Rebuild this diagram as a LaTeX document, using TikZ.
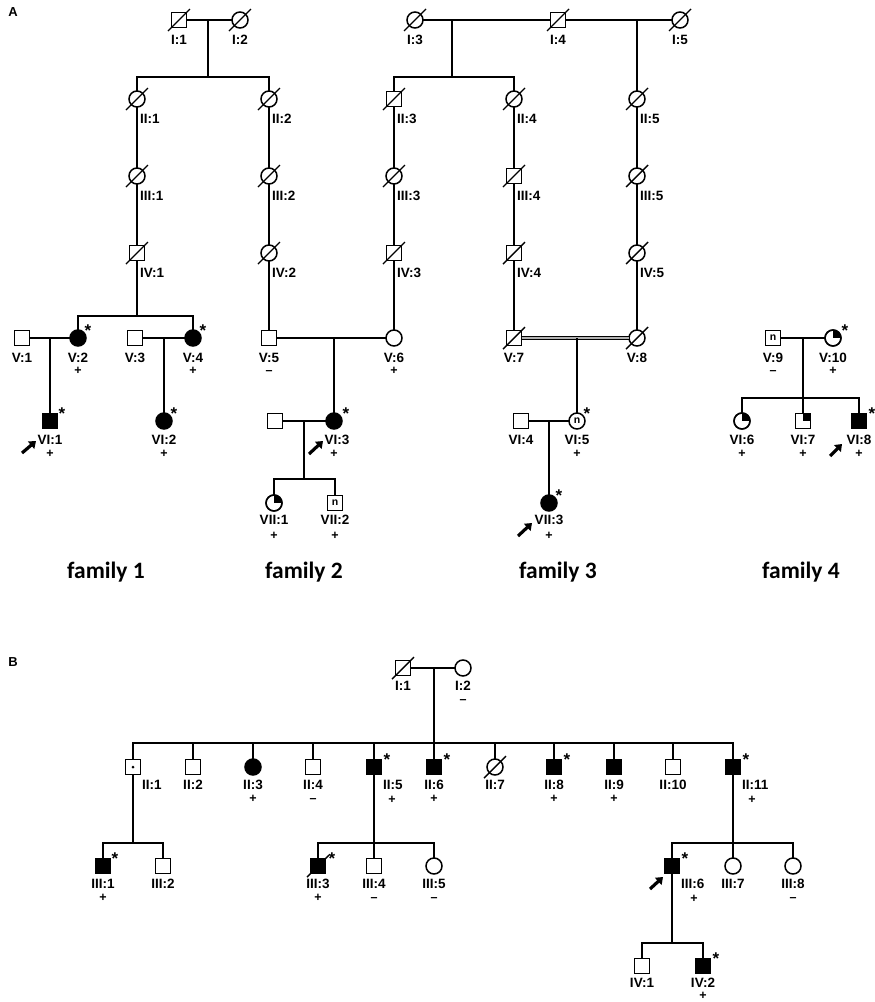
\documentclass[tikz,border=0pt]{standalone}
\usepackage{fontspec}
\setmainfont{Liberation Sans}
\newfontfamily\famfam{Carlito}
\usetikzlibrary{arrows.meta}
\newcommand\labfont{\bfseries\fontsize{13.5}{14}\selectfont}
\newcommand\sgnfont{\bfseries\fontsize{12.5}{13}\selectfont}
\newcommand\astfont{\bfseries\fontsize{17}{17}\selectfont}
\newcommand\nfont{\bfseries\fontsize{10.5}{10}\selectfont}
\newcommand\famfont{\famfam\bfseries\fontsize{23.5}{24}\selectfont}
\newcommand\panfont{\bfseries\fontsize{13}{13}\selectfont}
\tikzset{
  sym/.style={draw, line width=1.5, inner sep=0pt, outer sep=0pt, font=\nfont},
  male/.style={sym, rectangle, minimum size=15},
  fem/.style={sym, circle, minimum size=16},
  aff/.style={fill=black},
  ln/.style={line width=2},
  sl/.style={line width=1.4},
  lab/.style={font=\labfont, inner sep=0pt},
  w/.style={anchor=west, xshift=3},
  wb/.style={anchor=west, xshift=9},
  sgn/.style={font=\sgnfont, inner sep=0pt},
  astk/.style={font=\astfont, inner sep=0pt},
  fam/.style={font=\famfont, inner sep=0pt},
  pan/.style={font=\panfont, inner sep=0pt},
  prb/.style={line width=3.2, -{Triangle[length=6.5pt,width=9.5pt]}},
  dbl/.style={line width=1.2, double=gray!60, double distance=2.2},
}
\def\laboff{20}
\def\sgnoff{33}
\newcommand\pers[7]{\node[#4] (#1) at (#2,#3) {#5};\node[lab,#7] (#1l) at (#2,#3+\laboff) {#6};}
\newcommand\sgnx[4]{\node[sgn] (#1s) at (#2,#3+\sgnoff) {#4};}
\newcommand\sgnm[3]{\node[sgn] (#1s) at (#2,#3+\sgnoff+2) {--};}
\newcommand\astr[3]{\node[astk] (#1a) at (#2+12,#3-7) {*};}
\newcommand\deceased[1]{\draw[sl] ([shift={(-11,11)}]#1.center) -- ([shift={(11,-11)}]#1.center);}
\newcommand\qcirc[1]{\begin{scope}\clip (#1.center) circle (8);\fill (#1.center) rectangle ++(9,-9);\end{scope}\draw[sl] (#1.center) circle (8);}
\newcommand\qsq[1]{\fill (#1.center) rectangle (#1.north east);\draw[sl] (#1.south west) rectangle (#1.north east);}
\newcommand\prob[5]{\coordinate (#1t) at (#2,#3);\coordinate (#1h) at (#4,#5);\draw[prb] (#1t) -- (#1h);}
\begin{document}
\begin{tikzpicture}[x=1pt,y=-1pt]
\useasboundingbox (0,0) rectangle (875,1002);
\fill[white] (0,0) rectangle (875,1002);
\node[pan] (panA) at (13,12) {A};
\node[pan] (panB) at (13,662) {B};
% ================= families 1 and 2 ancestors
\pers{aI1}{179}{20}{male}{}{I:1}{}
\pers{aI2}{240}{20}{fem}{}{I:2}{}
\pers{aII1}{137}{99}{fem}{}{II:1}{w}
\pers{aII2}{269}{99}{fem}{}{II:2}{w}
\pers{aIII1}{137}{176}{fem}{}{III:1}{w}
\pers{aIII2}{269}{176}{fem}{}{III:2}{w}
\pers{aIV1}{137}{253}{male}{}{IV:1}{w}
\pers{aIV2}{269}{253}{fem}{}{IV:2}{w}
\coordinate (am1) at (208,20);
\coordinate (as1) at (208,77);
\draw[ln] (aI1) -- (aI2);
\draw[ln] (am1) -- (as1);
\draw[ln] (aII1.north) |- (as1) -| (aII2.north);
\draw[ln] (aII1) -- (aIII1);
\draw[ln] (aIII1) -- (aIV1);
\draw[ln] (aII2) -- (aIII2);
\draw[ln] (aIII2) -- (aIV2);
% family 1
\pers{f1V1}{22}{338}{male}{}{V:1}{}
\pers{f1V2}{78}{338}{fem,aff}{}{V:2}{}
\sgnx{f1V2}{78}{338}{+}
\astr{f1V2}{76}{338}
\pers{f1V3}{135}{338}{male}{}{V:3}{}
\pers{f1V4}{193}{338}{fem,aff}{}{V:4}{}
\sgnx{f1V4}{193}{338}{+}
\astr{f1V4}{191}{338}
\coordinate (f1s5) at (137,316);
\draw[ln] (aIV1) -- (f1s5);
\draw[ln] (f1V2.north) |- (f1s5) -| (f1V4.north);
\draw[ln] (f1V1) -- (f1V2);
\draw[ln] (f1V3) -- (f1V4);
\coordinate (f1m5a) at (50,338);
\coordinate (f1m5b) at (164,338);
\def\laboff{19}
\pers{f1VI1}{50}{421}{male,aff}{}{VI:1}{}
\sgnx{f1VI1}{50}{421}{+}
\astr{f1VI1}{50}{421}
\pers{f1VI2}{164}{421}{fem,aff}{}{VI:2}{}
\sgnx{f1VI2}{164}{421}{+}
\astr{f1VI2}{162}{421}
\draw[ln] (f1m5a) -- (f1VI1);
\draw[ln] (f1m5b) -- (f1VI2);
\prob{f1p}{22}{453}{36}{441}
\node[fam] (fam1) at (106,572) {family 1};
% family 2
\def\laboff{20}
\pers{f2V5}{269}{338}{male}{}{V:5}{}
\sgnm{f2V5}{269}{338}
\pers{f2V6}{394}{338}{fem}{}{V:6}{}
\sgnx{f2V6}{394}{338}{+}
\draw[ln] (aIV2) -- (f2V5);
\draw[ln] (f2V5) -- (f2V6);
\coordinate (f2m5) at (334,338);
\def\laboff{19}
\pers{f2sp}{275}{421}{male}{}{}{}
\pers{f2VI3}{334}{421}{fem,aff}{}{VI:3}{xshift=3}
\sgnx{f2VI3}{334}{421}{+}
\astr{f2VI3}{334}{421}
\draw[ln] (f2m5) -- (f2VI3);
\draw[ln] (f2sp) -- (f2VI3);
\coordinate (f2m6) at (304,421);
\coordinate (f2s6) at (304,479);
\draw[ln] (f2m6) -- (f2s6);
\def\laboff{17}
\pers{f2VII1}{274}{503}{fem}{}{VII:1}{}
\sgnx{f2VII1}{274}{503}{+}
\qcirc{f2VII1}
\pers{f2VII2}{335}{503}{male}{n}{VII:2}{}
\sgnx{f2VII2}{335}{503}{+}
\draw[ln] (f2VII1.north) |- (f2s6) -| (f2VII2.north);
\prob{f2p}{309}{454}{323}{441}
\node[fam] (fam2) at (304,572) {family 2};
% family 3
\def\laboff{20}
\pers{f3I3}{415}{20}{fem}{}{I:3}{}
\pers{f3I4}{558}{20}{male}{}{I:4}{}
\pers{f3I5}{680}{20}{fem}{}{I:5}{}
\coordinate (f3m1) at (452,20);
\coordinate (f3s1) at (452,77);
\coordinate (f3m2) at (637,20);
\draw[ln] (f3I3) -- (f3I4);
\draw[ln] (f3I4) -- (f3I5);
\draw[ln] (f3m1) -- (f3s1);
\pers{f3II3}{394}{99}{male}{}{II:3}{w}
\pers{f3II4}{514}{99}{fem}{}{II:4}{w}
\pers{f3II5}{637}{99}{fem}{}{II:5}{w}
\draw[ln] (f3II3.north) |- (f3s1) -| (f3II4.north);
\draw[ln] (f3m2) -- (f3II5);
\pers{f3III3}{394}{176}{fem}{}{III:3}{w}
\pers{f3III4}{514}{176}{male}{}{III:4}{w}
\pers{f3III5}{637}{176}{fem}{}{III:5}{w}
\pers{f3IV3}{394}{253}{male}{}{IV:3}{w}
\pers{f3IV4}{514}{253}{male}{}{IV:4}{w}
\pers{f3IV5}{637}{253}{fem}{}{IV:5}{w}
\draw[ln] (f3II3) -- (f3III3);
\draw[ln] (f3III3) -- (f3IV3);
\draw[ln] (f3IV3) -- (f2V6);
\draw[ln] (f3II4) -- (f3III4);
\draw[ln] (f3III4) -- (f3IV4);
\draw[ln] (f3II5) -- (f3III5);
\draw[ln] (f3III5) -- (f3IV5);
\pers{f3V7}{514}{338}{male}{}{V:7}{}
\pers{f3V8}{637}{338}{fem}{}{V:8}{}
\draw[ln] (f3IV4) -- (f3V7);
\draw[ln] (f3IV5) -- (f3V8);
\draw[dbl] (f3V7) -- (f3V8);
\coordinate (f3m5) at (577,338);
\def\laboff{19}
\pers{f3VI4}{521}{421}{male}{}{VI:4}{}
\pers{f3VI5}{577}{421}{fem}{n}{VI:5}{}
\sgnx{f3VI5}{577}{421}{+}
\astr{f3VI5}{575}{421}
\draw[ln] (f3m5) -- (f3VI5);
\draw[ln] (f3VI4) -- (f3VI5);
\coordinate (f3m6) at (549,421);
\def\laboff{17}
\pers{f3VII3}{549}{503}{fem,aff}{}{VII:3}{}
\sgnx{f3VII3}{549}{503}{+}
\astr{f3VII3}{547}{503}
\draw[ln] (f3m6) -- (f3VII3);
\prob{f3p}{518}{536}{532}{523}
\node[fam] (fam3) at (558,572) {family 3};
% deceased marks
\foreach \n in {aI1,aI2,aII1,aII2,aIII1,aIII2,aIV1,aIV2,f3I3,f3I4,f3I5,f3II3,f3II4,f3II5,f3III3,f3III4,f3III5,f3IV3,f3IV4,f3IV5,f3V7,f3V8}{\deceased{\n}}
% family 4
\def\laboff{20}
\pers{f4V9}{773}{338}{male}{n}{V:9}{}
\sgnm{f4V9}{773}{338}
\pers{f4V10}{833}{338}{fem}{}{V:10}{}
\sgnx{f4V10}{833}{338}{+}
\qcirc{f4V10}
\astr{f4V10}{833}{338}
\draw[ln] (f4V9) -- (f4V10);
\coordinate (f4m5) at (803,338);
\coordinate (f4s5) at (803,398);
\draw[ln] (f4m5) -- (f4s5);
\def\laboff{19}
\pers{f4VI6}{742}{421}{fem}{}{VI:6}{}
\sgnx{f4VI6}{742}{421}{+}
\qcirc{f4VI6}
\pers{f4VI7}{803}{421}{male}{}{VI:7}{}
\sgnx{f4VI7}{803}{421}{+}
\qsq{f4VI7}
\pers{f4VI8}{859}{421}{male,aff}{}{VI:8}{}
\sgnx{f4VI8}{859}{421}{+}
\astr{f4VI8}{860}{421}
\draw[ln] (f4VI6.north) |- (f4s5) -| (f4VI8.north);
\draw[ln] (f4s5) -- (f4VI7);
\prob{f4p}{830}{456}{842}{444}
\node[fam] (fam4) at (801,572) {family 4};
% ================= panel B
\def\laboff{18}
\def\sgnoff{32}
\pers{bI1}{403}{668}{male}{}{I:1}{}
\pers{bI2}{463}{668}{fem}{}{I:2}{}
\sgnm{bI2}{463}{668}
\draw[ln] (bI1) -- (bI2);
\coordinate (bm1) at (434,668);
\coordinate (bs1) at (434,743);
\draw[ln] (bm1) -- (bs1);
\pers{bII1}{133}{767}{male}{}{II:1}{wb}
\fill (bII1.center) circle (1.5);
\pers{bII2}{193}{767}{male}{}{II:2}{}
\pers{bII3}{253}{767}{fem,aff}{}{II:3}{}
\sgnx{bII3}{253}{767}{+}
\pers{bII4}{313}{767}{male}{}{II:4}{}
\sgnm{bII4}{313}{767}
\pers{bII5}{374}{767}{male,aff}{}{II:5}{wb}
\sgnx{bII5}{392}{768}{+}
\astr{bII5}{375}{767}
\pers{bII6}{434}{767}{male,aff}{}{II:6}{}
\sgnx{bII6}{434}{767}{+}
\astr{bII6}{435}{767}
\pers{bII7}{495}{767}{fem}{}{II:7}{}
\pers{bII8}{554}{767}{male,aff}{}{II:8}{}
\sgnx{bII8}{554}{767}{+}
\astr{bII8}{555}{767}
\pers{bII9}{614}{767}{male,aff}{}{II:9}{}
\sgnx{bII9}{614}{767}{+}
\pers{bII10}{673}{767}{male}{}{II:10}{}
\pers{bII11}{733}{767}{male,aff}{}{II:11}{wb}
\sgnx{bII11}{752}{768}{+}
\astr{bII11}{734}{767}
\draw[ln] (bII1.north) |- (bs1) -| (bII11.north);
\foreach \n in {bII2,bII3,bII4,bII5,bII7,bII8,bII9,bII10}{\draw[ln] (\n.north) -- (\n.north |- bs1);}
\draw[ln] (bs1) -- (bII6);
\deceased{bI1}
\deceased{bII7}
% generation III
\coordinate (bs2) at (133,843);
\draw[ln] (bII1) -- (bs2);
\pers{bIII1}{103}{866}{male,aff}{}{III:1}{}
\sgnx{bIII1}{103}{866}{+}
\astr{bIII1}{103}{866}
\pers{bIII2}{163}{866}{male}{}{III:2}{}
\draw[ln] (bIII1.north) |- (bs2) -| (bIII2.north);
\coordinate (bs3) at (374,843);
\pers{bIII3}{318}{866}{male,aff}{}{III:3}{}
\sgnx{bIII3}{318}{866}{+}
\astr{bIII3}{320}{866}
\deceased{bIII3}
\pers{bIII4}{374}{866}{male}{}{III:4}{}
\sgnm{bIII4}{374}{866}
\pers{bIII5}{434}{866}{fem}{}{III:5}{}
\sgnm{bIII5}{434}{866}
\draw[ln] (bII5) -- (bIII4);
\draw[ln] (bIII3.north) |- (bs3) -| (bIII5.north);
\coordinate (bs4) at (733,843);
\pers{bIII6}{672}{866}{male,aff}{}{III:6}{wb}
\sgnx{bIII6}{694}{867}{+}
\astr{bIII6}{673}{866}
\pers{bIII7}{733}{866}{fem}{}{III:7}{}
\pers{bIII8}{793}{866}{fem}{}{III:8}{}
\sgnm{bIII8}{793}{866}
\draw[ln] (bII11) -- (bIII7);
\draw[ln] (bIII6.north) |- (bs4) -| (bIII8.north);
\prob{bp}{650}{889}{663}{877}
% generation IV
\coordinate (bs5) at (672,943);
\draw[ln] (bIII6) -- (bs5);
\def\laboff{17}
\pers{bIV1}{642}{966}{male}{}{IV:1}{}
\pers{bIV2}{703}{966}{male,aff}{}{IV:2}{}
\node[sgn] (bIV2s) at (703,996) {+};
\astr{bIV2}{704}{966}
\draw[ln] (bIV1.north) |- (bs5) -| (bIV2.north);
\end{tikzpicture}
\end{document}
